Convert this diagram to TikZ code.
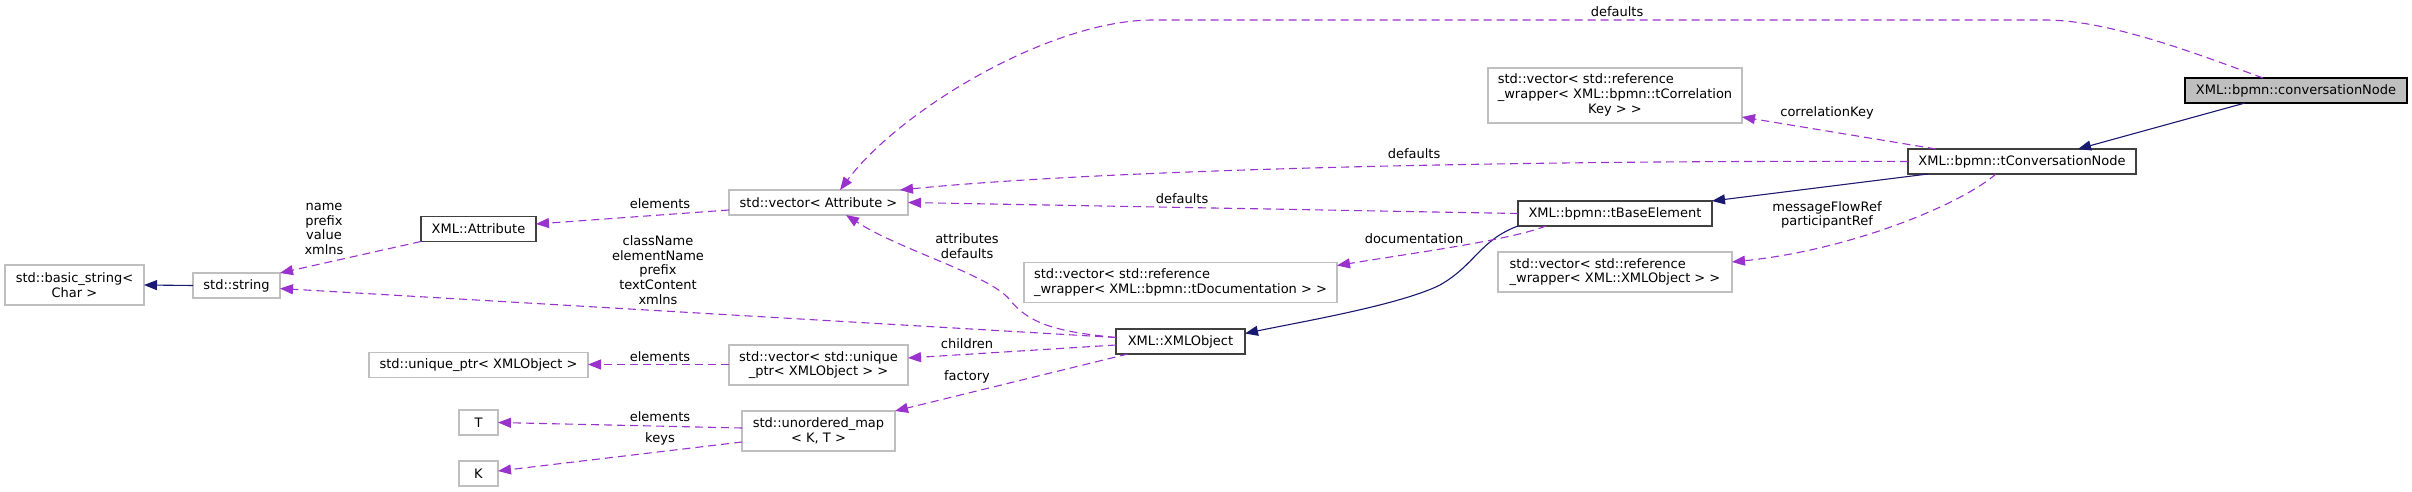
\documentclass[tikz,border=0pt]{standalone}
\usepackage{fontspec}
\setmainfont{DejaVu Sans}
\usepackage{tikz}
\usetikzlibrary{arrows.meta}
\definecolor{dxorchid}{HTML}{9A32CD}
\definecolor{dxnavy}{HTML}{191970}
\definecolor{dxgrey}{HTML}{BFBFBF}
\definecolor{dxdark}{HTML}{404040}

\begin{document}
\begin{tikzpicture}[
        x=1pt, y=-1pt,
        font=\fontsize{13}{14.7}\selectfont,
        every node/.style={align=center, inner sep=0pt, outer sep=0pt},
        % ===== Estilos =====
        dxext/.style={rectangle, draw=dxgrey, line width=1.2pt, fill=white,
                      minimum height=25pt},
        dxdoc/.style={dxext, draw=dxdark},
        dxroot/.style={dxext, draw=black, fill=dxgrey},
        dxlbl/.style={text=black},
        dxuse/.style={draw=dxorchid, line width=1.1pt, dash pattern=on 8pt off 5pt,
                      -{Triangle[length=13pt,width=10pt]}},
        dxinh/.style={draw=dxnavy, line width=1.1pt,
                      -{Triangle[length=13pt,width=10pt]}}
    ]
        \useasboundingbox (0,0) rectangle (2412,492);

        % ===== Clases documentadas =====
        \node[dxroot, minimum width=222pt] (conv) at (2296,90.5) {XML::bpmn::conversationNode};
        \node[dxdoc, minimum width=228pt] (tconv) at (2022,161.5) {XML::bpmn::tConversationNode};
        \node[dxdoc, minimum width=194pt] (base) at (1615,213.5) {XML::bpmn::tBaseElement};
        \node[dxdoc, minimum width=129pt] (xobj) at (1180.5,341.5) {XML::XMLObject};
        \node[dxdoc, minimum width=115pt] (attr) at (478.5,229) {XML::Attribute};

        % ===== Tipos externos =====
        \node[dxext, minimum width=254pt, minimum height=55pt] (vcorr) at (1615,95.5)
            {\begin{tabular}{@{}l@{}}std::vector< std::reference\\\_wrapper< XML::bpmn::tCorrelation\\\multicolumn{1}{@{}c@{}}{Key > >}\end{tabular}};
        \node[dxext, minimum width=234pt, minimum height=40pt, align=left] (vxref) at (1615,272)
            {std::vector< std::reference\\\_wrapper< XML::XMLObject > >};
        \node[dxext, minimum width=313pt, minimum height=40pt, align=left] (vdoc) at (1180.5,282.5)
            {std::vector< std::reference\\\_wrapper< XML::bpmn::tDocumentation > >};
        \node[dxext, minimum width=179pt] (vattr) at (818.5,202.5) {std::vector< Attribute >};
        \node[dxext, minimum width=179pt, minimum height=40pt] (vuptr) at (818.5,365)
            {std::vector< std::unique\\\_ptr< XMLObject > >};
        \node[dxext, minimum width=153pt, minimum height=40pt] (umap) at (818.5,431)
            {std::unordered\_map\\< K, T >};
        \node[dxext, minimum width=219pt] (uptr) at (478.5,365) {std::unique\_ptr< XMLObject >};
        \node[dxext, minimum width=39pt] (tT) at (478.5,422.5) {T};
        \node[dxext, minimum width=39pt] (tK) at (478.5,473.5) {K};
        \node[dxext, minimum width=87pt] (str) at (236.5,285.5) {std::string};
        \node[dxext, minimum width=139pt, minimum height=40pt] (bstr) at (74.5,285)
            {std::basic\_string<\\Char >};

        % ===== Herencia =====
        \draw[dxinh] ([xshift=60pt]conv.south west) -- ([xshift=170pt]tconv.north west);
        \draw[dxinh] ([xshift=20pt]tconv.south west) -- (base.north east);
        \draw[dxinh] (base.south west) .. controls (1480,240) and (1475,265) .. (1440,285)
            .. controls (1400,305) and (1300,322) .. ([yshift=8pt]xobj.east);
        \draw[dxinh] (str.west) -- (bstr.east);

        % ===== Uso =====
        \draw[dxuse] ([xshift=78pt]conv.north west) .. controls (2200,55) and (2110,20) .. (2045,20)
            -- (1153,20) .. controls (1050,20) and (900,110) .. ([xshift=111pt]vattr.north west);
        \draw[dxuse] (tconv.west) .. controls (1500,160) and (1100,170) .. ([xshift=-8pt]vattr.north east);
        \draw[dxuse] ([xshift=28pt]tconv.north west) -- ([yshift=6pt]vcorr.south east);
        \draw[dxuse] ([xshift=88pt]tconv.south west) .. controls (1960,205) and (1850,250) .. ([yshift=10pt]vxref.east);
        \draw[dxuse] (base.west) -- (vattr.east);
        \draw[dxuse] ([xshift=28pt]base.south west) .. controls (1510,240) and (1420,252) .. ([yshift=-3pt]vdoc.north east);
        \draw[dxuse] ([yshift=4pt]xobj.west) .. controls (1060,332) and (1030,325) .. (1010,300)
            .. controls (990,275) and (900,250) .. ([xshift=117pt]vattr.south west);
        \draw[dxuse] ([yshift=4pt]xobj.west) -- ([yshift=-3pt]str.east);
        \draw[dxuse] ([yshift=-3.5pt]xobj.west) -- ([yshift=7pt]vuptr.east);
        \draw[dxuse] ([xshift=12pt]xobj.south west) -- (umap.north east);
        \draw[dxuse] (attr.south west) -- (str.north east);
        \draw[dxuse] ([yshift=-7.5pt]vattr.west) -- ([yshift=5pt]attr.east);
        \draw[dxuse] ([yshift=0.5pt]vuptr.west) -- ([yshift=0.5pt]uptr.east);
        \draw[dxuse] ([yshift=3pt]umap.west) -- (tT.east);
        \draw[dxuse] ([yshift=-11pt]umap.west) -- ([yshift=2.5pt]tK.east);

        % ===== Etiquetas =====
        \node[dxlbl] (lconv) at (1617,12) {defaults};
        \node[dxlbl] (ltconv) at (1414,154) {defaults};
        \node[dxlbl] (lbase) at (1182,199) {defaults};
        \node[dxlbl] (lcorr) at (1827,113) {correlationKey};
        \node[dxlbl] (lxref) at (1827,215) {messageFlowRef\\participantRef};
        \node[dxlbl] (ldoc) at (1414,239) {documentation};
        \node[dxlbl] (lattrs) at (967,246) {attributes\\defaults};
        \node[dxlbl] (lstr) at (658,270) {className\\elementName\\prefix\\textContent\\xmlns};
        \node[dxlbl] (lchild) at (967,344) {children};
        \node[dxlbl] (lfact) at (967,377) {factory};
        \node[dxlbl] (lelem) at (660,204) {elements};
        \node[dxlbl] (luptr) at (660,357) {elements};
        \node[dxlbl] (lT) at (660,417) {elements};
        \node[dxlbl] (lK) at (660,439) {keys};
        \node[dxlbl] (lname) at (324,229) {name\\prefix\\value\\xmlns};
    \end{tikzpicture}
\end{document}
